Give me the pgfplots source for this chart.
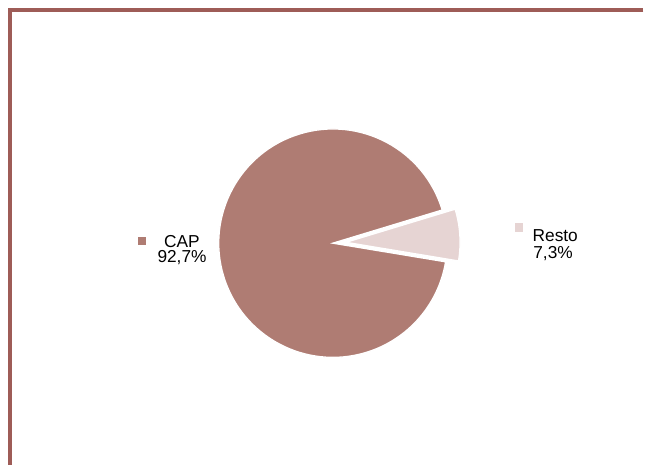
\documentclass[border=0pt]{standalone}
\usepackage{pgfplots}
\usepackage{pgfplotstable}
\pgfplotsset{compat=1.18}
\usepackage{fontspec}
\setmainfont{Liberation Sans}
\definecolor{capc}{HTML}{AF7C73}
\definecolor{restoc}{HTML}{E6D4D3}
\definecolor{framec}{HTML}{9E5C57}
\pgfplotstableread{
label value
CAP 92.7
Resto 7.3
}\piedata
\begin{document}
\begin{tikzpicture}
\pgfplotstablegetelem{0}{value}\of\piedata \pgfmathsetmacro{\vcap}{\pgfplotsretval}
\pgfplotstablegetelem{1}{value}\of\piedata \pgfmathsetmacro{\vresto}{\pgfplotsretval}
\pgfmathsetmacro{\cx}{333.8}
\pgfmathsetmacro{\cy}{466-243.8}
\pgfmathsetmacro{\Rpt}{114.5*0.75}
\pgfmathsetmacro{\rs}{-9.4}
\pgfmathsetmacro{\re}{\rs+\vresto*3.6}
\pgfmathsetmacro{\rmid}{(\rs+\re)/2}
\pgfmathsetmacro{\ce}{\re+\vcap*3.6}
\pgfmathsetmacro{\ex}{\cx+13*cos(\rmid)}
\pgfmathsetmacro{\ey}{\cy+13*sin(\rmid)}
\begin{axis}[x=0.75pt, y=0.75pt, xmin=0, xmax=645, ymin=0, ymax=466,
  hide axis, clip=false]
\path (axis cs:0,0) rectangle (axis cs:645,466);
\draw[framec, line width=2.5pt] (axis cs:645,456) -- (axis cs:10,456) -- (axis cs:10,0);
\fill[capc, draw=white, line width=1pt] (axis cs:\cx,\cy) -- ++(\re:\Rpt pt)
  arc[start angle=\re, end angle=\ce, radius=\Rpt pt] -- cycle;
\fill[restoc, draw=white, line width=1pt] (axis cs:\ex,\ey) -- ++(\rs:\Rpt pt)
  arc[start angle=\rs, end angle=\re, radius=\Rpt pt] -- cycle;
\fill[capc] (axis cs:138.3,{466-237.3}) rectangle (axis cs:146.7,{466-245.7});
\fill[restoc] (axis cs:516,{466-224}) rectangle (axis cs:524.4,{466-232.4});
\node[anchor=base, font=\fontsize{13}{15}\selectfont] at (axis cs:182.3,{466-247.7}) {CAP};
\node[anchor=base, font=\fontsize{13}{15}\selectfont] at (axis cs:182.5,{466-263.3}) {92,7\%};
\node[anchor=base, font=\fontsize{13}{15}\selectfont] at (axis cs:556.7,{466-241.7}) {Resto};
\node[anchor=base, font=\fontsize{13}{15}\selectfont] at (axis cs:554.5,{466-259.3}) {7,3\%};
\end{axis}
\end{tikzpicture}
\end{document}
